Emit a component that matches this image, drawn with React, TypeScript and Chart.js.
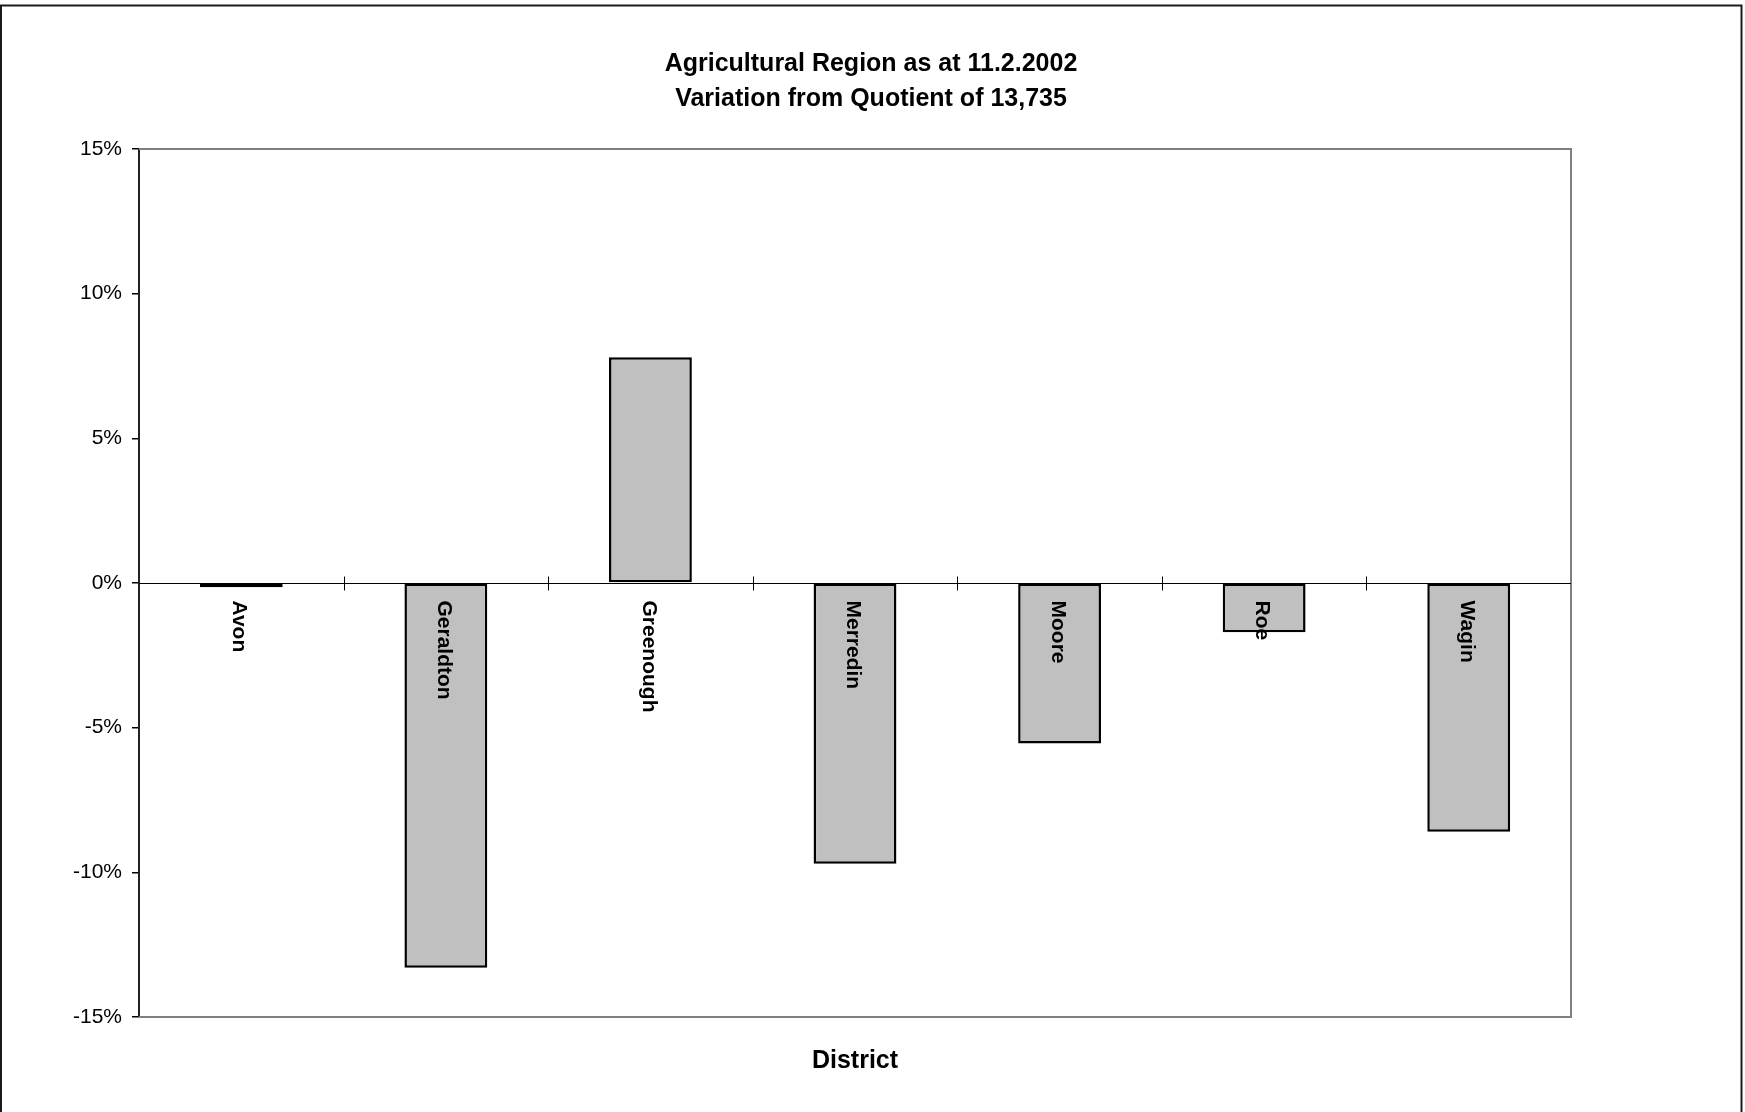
import React, { useEffect, useRef } from "react";
import { Chart, registerables } from "chart.js";

Chart.register(...registerables);

const titleLines = ["Agricultural Region as at 11.2.2002", "Variation from Quotient of 13,735"];
const xAxisTitle = "District";
const categories = ["Avon", "Geraldton", "Greenough", "Merredin", "Moore", "Roe", "Wagin"];
const variation = [-0.15, -13.3, 7.8, -9.7, -5.55, -1.7, -8.6];
const yMin = -15;
const yMax = 15;
const yStep = 5;

const FONT = '"Liberation Sans", Arial, Helvetica, sans-serif';
const W = 1745;
const H = 1112;

const decorPlugin = {
  id: "decor",
  beforeDraw(chart: any) {
    const ctx = chart.ctx;
    ctx.save();
    ctx.fillStyle = "#ffffff";
    ctx.fillRect(0, 0, chart.width, chart.height);
    ctx.strokeStyle = "#1a1a1a";
    ctx.lineWidth = 2;
    ctx.strokeRect(1, 5.5, 1740.5, 1130);
    ctx.restore();
  },
  afterDatasetsDraw(chart: any) {
    const { ctx, chartArea: ca, scales } = chart;
    const x = scales.x;
    const y = scales.y;
    ctx.save();
    // plot border (top, right, bottom)
    ctx.strokeStyle = "#808080";
    ctx.lineWidth = 2;
    ctx.beginPath();
    ctx.moveTo(ca.left, ca.top);
    ctx.lineTo(ca.right, ca.top);
    ctx.lineTo(ca.right, ca.bottom);
    ctx.lineTo(ca.left, ca.bottom);
    ctx.stroke();

    // zero line with crossing category ticks
    const y0 = Math.round(y.getPixelForValue(0)) + 0.5;
    ctx.strokeStyle = "#000000";
    ctx.lineWidth = 1;
    ctx.beginPath();
    ctx.moveTo(ca.left, y0);
    ctx.lineTo(ca.right, y0);
    for (let i = 1; i < categories.length; i++) {
      const px = Math.round(x.getPixelForValue(i - 0.5)) + 0.5;
      ctx.moveTo(px, y0 - 7);
      ctx.lineTo(px, y0 + 7);
    }
    ctx.stroke();

    // category labels, rotated clockwise
    ctx.fillStyle = "#000000";
    ctx.font = `bold 21px ${FONT}`;
    ctx.textAlign = "left";
    ctx.textBaseline = "middle";
    categories.forEach((c, i) => {
      const px = x.getPixelForValue(i);
      ctx.save();
      ctx.translate(px - 2, y0 + 17);
      ctx.rotate(Math.PI / 2);
      ctx.fillText(c, 0, 0);
      ctx.restore();
    });

    // chart title
    ctx.font = `bold 25px ${FONT}`;
    ctx.textAlign = "center";
    ctx.textBaseline = "alphabetic";
    ctx.fillText(titleLines[0], 871, 71);
    ctx.fillText(titleLines[1], 871, 106);

    // x axis title
    ctx.fillText(xAxisTitle, (ca.left + ca.right) / 2, 1068);
    ctx.restore();
  },
};

export default function App() {
  const canvasRef = useRef<HTMLCanvasElement | null>(null);

  useEffect(() => {
    const canvas = canvasRef.current;
    if (!canvas) return;
    const chart = new Chart(canvas, {
      type: "bar",
      data: {
        labels: categories,
        datasets: [
          {
            data: variation,
            backgroundColor: "#C0C0C0",
            borderColor: "#000000",
            borderWidth: 2.5,
            borderSkipped: false,
            categoryPercentage: 1,
            barPercentage: 0.405,
          },
        ],
      },
      plugins: [decorPlugin],
      options: {
        animation: false,
        responsive: false,
        devicePixelRatio: 1,
        layout: {
          padding: { left: 0, top: 149, right: W - 1571, bottom: H - 1017 },
        },
        plugins: {
          legend: { display: false },
          tooltip: { enabled: false },
          title: { display: false },
        },
        scales: {
          x: {
            type: "category",
            display: false,
            offset: true,
          },
          y: {
            type: "linear",
            position: "left",
            min: yMin,
            max: yMax,
            afterFit: (scale: any) => {
              scale.width = 139;
            },
            ticks: {
              stepSize: yStep,
              color: "#000000",
              padding: 10,
              font: { family: FONT, size: 21 },
              callback: (v: any) => `${v}%`,
            },
            grid: {
              display: true,
              drawOnChartArea: false,
              drawTicks: true,
              tickLength: 7,
              color: "#000000",
              lineWidth: 1.5,
            },
            border: { display: true, color: "#222222", width: 2 },
          },
        },
      },
    });
    return () => chart.destroy();
  }, []);

  return (
    <div style={{ position: "absolute", left: 0, top: 0, width: W, height: H, background: "#fff" }}>
      <canvas ref={canvasRef} width={W} height={H} style={{ display: "block", width: W, height: H }} />
    </div>
  );
}
